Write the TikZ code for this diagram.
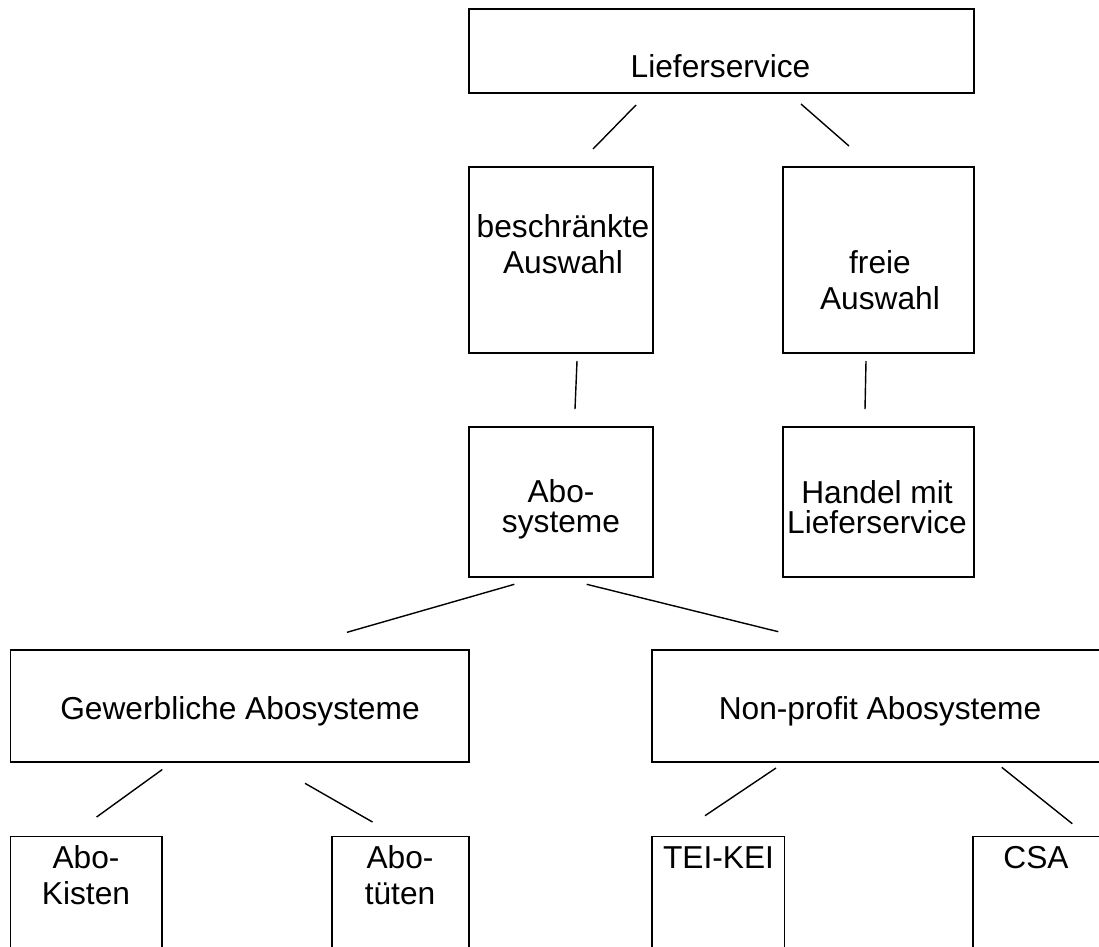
\documentclass[tikz,border=0pt]{standalone}
\usepackage{fontspec}
\setmainfont{Liberation Sans}
\begin{document}
\begin{tikzpicture}[x=1pt,y=-1pt,
  box/.style={draw, line width=1.4pt, inner sep=0pt, outer sep=0pt},
  topbox/.style={box, line width=2.2pt},
  lbl/.style={font=\fontsize{31.7}{36}\selectfont, align=center, inner sep=0pt, outer sep=0pt, anchor=base},
  tight/.style={font=\fontsize{31.7}{30}\selectfont},
  conn/.style={line width=1.4pt}]
\useasboundingbox (0,0) rectangle (1099,946);

% boxes
\node[topbox, minimum width=505pt, minimum height=84pt] (lief) at (721.5,51) {};
\node[box, minimum width=184pt, minimum height=186pt] (besch) at (561,260) {};
\node[box, minimum width=191pt, minimum height=186pt] (frei) at (878.5,260) {};
\node[box, minimum width=184pt, minimum height=150pt] (abo) at (561,502) {};
\node[box, minimum width=191pt, minimum height=150pt] (handel) at (878.5,502) {};
\node[box, minimum width=458.5pt, minimum height=112pt] (gew) at (239.75,706) {};
\node[box, minimum width=458.5pt, minimum height=112pt] (nonp) at (881.25,706) {};
\node[box, minimum width=151.5pt, minimum height=163pt] (kist) at (86.25,918) {};
\node[box, minimum width=137pt, minimum height=163pt] (tuet) at (400.5,918) {};
\node[box, minimum width=132.6pt, minimum height=163pt] (tei) at (718.3,918) {};
\node[box, minimum width=132.6pt, minimum height=163pt] (csa) at (1039.3,918) {};

% labels (anchor base = baseline of the last line)
\node[lbl] (tlief) at (720.5,77) {Lieferservice};
\node[lbl] (tbesch) at (563,273) {beschränkte\\Auswahl};
\node[lbl] (tfrei) at (880,309) {freie\\Auswahl};
\node[lbl, tight] (tabo) at (561,532) {Abo-\\systeme};
\node[lbl, tight] (thandel) at (877,533) {Handel mit\\Lieferservice};
\node[lbl] (tgew) at (240,719) {Gewerbliche Abosysteme};
\node[lbl] (tnonp) at (880,719) {Non-profit Abosysteme};
\node[lbl] (tkist) at (86,904) {Abo-\\Kisten};
\node[lbl] (ttuet) at (400,904) {Abo-\\tüten};
\node[lbl] (ttei) at (718.5,868) {TEI-KEI};
\node[lbl] (tcsa) at (1036,868) {CSA};

% connector end points
\coordinate (l1a) at (636,105);   \coordinate (l1b) at (593,149);
\coordinate (l2a) at (801,104);   \coordinate (l2b) at (849,146);
\coordinate (l3a) at (577,361);   \coordinate (l3b) at (575,409);
\coordinate (l4a) at (866,361);   \coordinate (l4b) at (865,409);
\coordinate (l5a) at (514.3,584.3); \coordinate (l5b) at (347,632.3);
\coordinate (l6a) at (586.7,584.3); \coordinate (l6b) at (778.3,631.7);
\coordinate (l7a) at (162.3,769.5); \coordinate (l7b) at (96.6,817);
\coordinate (l8a) at (305,783.3); \coordinate (l8b) at (372.5,822);
\coordinate (l9a) at (776,768);   \coordinate (l9b) at (705,815.7);
\coordinate (l10a) at (1001.7,767.3); \coordinate (l10b) at (1072.3,823.7);

\draw[conn] (l1a) -- (l1b);
\draw[conn] (l2a) -- (l2b);
\draw[conn] (l3a) -- (l3b);
\draw[conn] (l4a) -- (l4b);
\draw[conn] (l5a) -- (l5b);
\draw[conn] (l6a) -- (l6b);
\draw[conn] (l7a) -- (l7b);
\draw[conn] (l8a) -- (l8b);
\draw[conn] (l9a) -- (l9b);
\draw[conn] (l10a) -- (l10b);
\end{tikzpicture}
\end{document}
